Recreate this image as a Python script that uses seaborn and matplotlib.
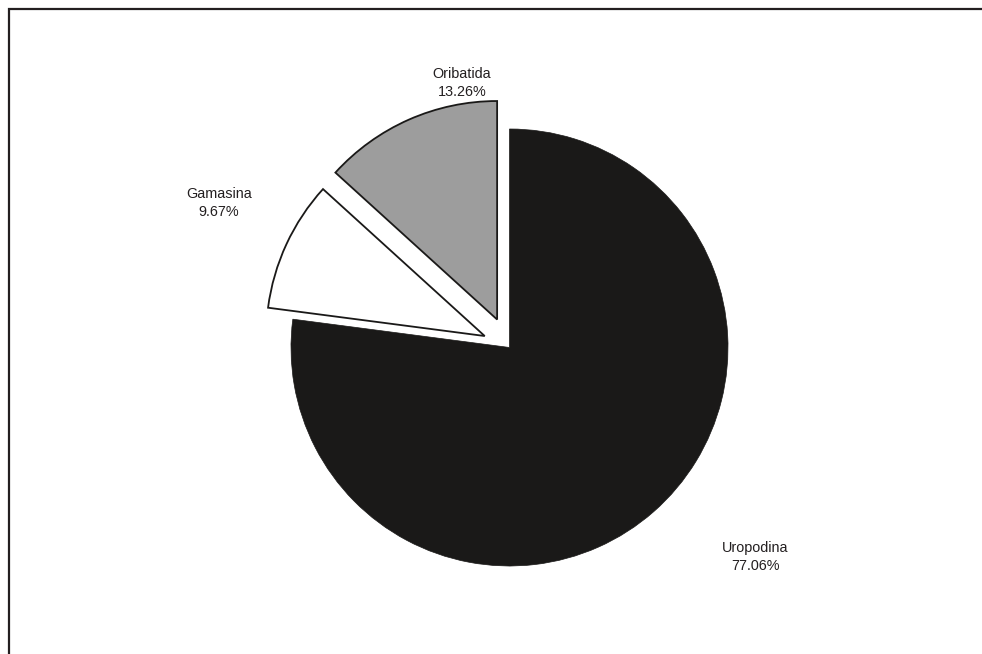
import matplotlib
matplotlib.use("Agg")
import matplotlib.pyplot as plt
from matplotlib.patches import Rectangle
import seaborn as sns

# Share of mite groups (%)
groups = ["Uropodina", "Gamasina", "Oribatida"]
shares = [77.06, 9.67, 13.26]
fills = ["#1a1918", "#ffffff", "#9d9d9d"]
explode = [0.0, 0.125, 0.14]

# label anchors in pie units (radius = 1, centre at origin)
label_xy = [(1.124, -0.959), (-1.330, 0.661), (-0.217, 1.211)]

sns.set_theme(style="white")
plt.rcParams["font.family"] = ["Liberation Sans", "DejaVu Sans"]

W, H, DPI = 982, 654, 100
fig = plt.figure(figsize=(W / DPI, H / DPI), dpi=DPI)
fig.patch.set_facecolor("white")
ax = fig.add_axes([0, 0, 1, 1])

wedges, _ = ax.pie(
    shares,
    colors=fills,
    explode=explode,
    startangle=90,
    counterclock=False,
    radius=1.0,
    wedgeprops=dict(linewidth=1.3, edgecolor="#1a1918", joinstyle="miter"),
)
wedges[0].set_edgecolor(fills[0])
wedges[0].set_linewidth(0.5)

for name, val, (x, y) in zip(groups, shares, label_xy):
    ax.text(x, y, f"{name}\n{val:.2f}%", ha="center", va="center",
            fontsize=10.4, color="#231f20", linespacing=1.4)

# pie centre placed at pixel (509.5, 347.5), radius 218.5 px
r_px = 218.5
cx, cy = 509.5, 347.5
ax.set_aspect("auto")
ax.set_xlim(-cx / r_px, (W - cx) / r_px)
ax.set_ylim(-(H - cy) / r_px, cy / r_px)
ax.axis("off")

# outer frame (only its top-left corner falls inside the canvas)
fig.patches.append(Rectangle((8.5 / W, -0.1), 1.2, 1.1 - 9.5 / H,
                             transform=fig.transFigure, fill=False,
                             edgecolor="#231f20", linewidth=1.6))

fig.savefig("out.png", dpi=DPI, facecolor="white")
